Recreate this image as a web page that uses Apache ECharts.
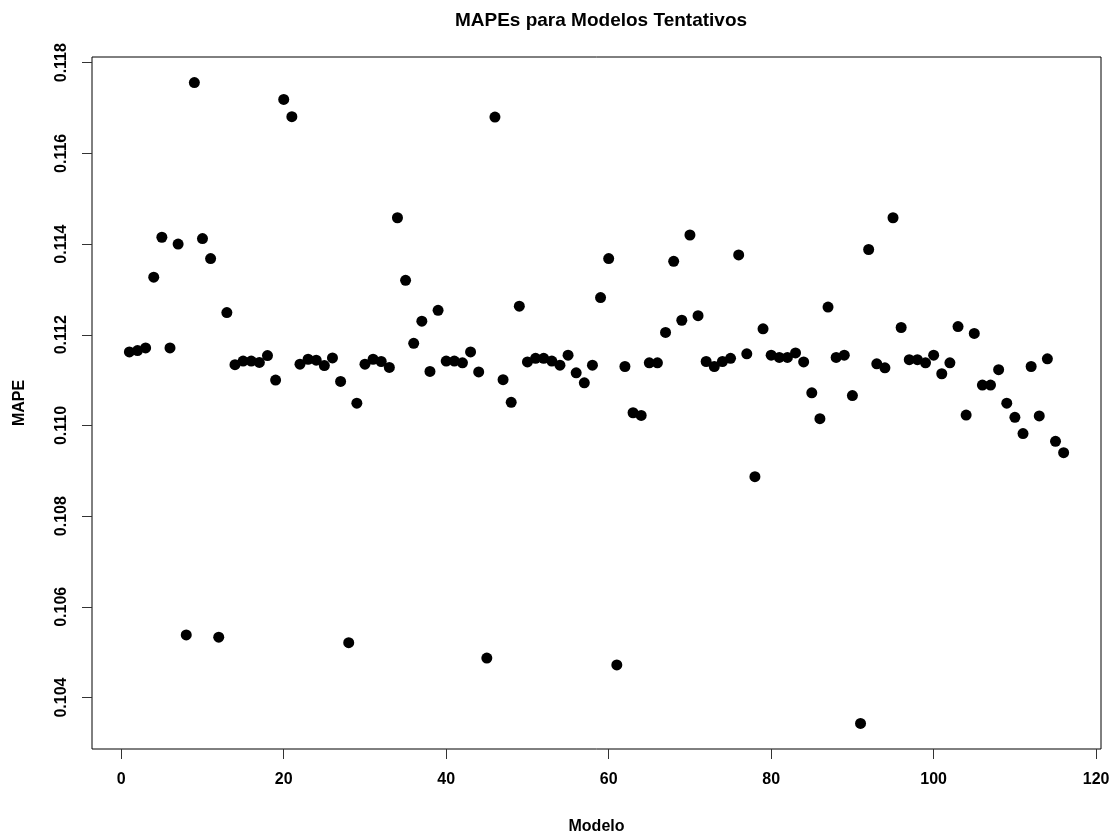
<!DOCTYPE html>
<html>
<head>
<meta charset="utf-8">
<script src="https://cdn.jsdelivr.net/npm/echarts@6/dist/echarts.min.js"></script>
<style>
  html, body { margin: 0; padding: 0; background: #ffffff; }
  #chart { width: 1116px; height: 834px; }
</style>
</head>
<body>
<div id="chart"></div>
<script>
// MAPE de cada modelo tentativo (modelo 1..116)
const mape = [
  0.11162, 0.11165, 0.11171, 0.11327, 0.11415, 0.11171, 0.11400, 0.10538, 0.11756, 0.11412,
  0.11368, 0.10533, 0.11249, 0.11134, 0.11142, 0.11142, 0.11139, 0.11154, 0.11100, 0.11719,
  0.11681, 0.11135, 0.11146, 0.11144, 0.11132, 0.11149, 0.11097, 0.10521, 0.11049, 0.11135,
  0.11146, 0.11141, 0.11128, 0.11458, 0.11320, 0.11181, 0.11230, 0.11119, 0.11254, 0.11142,
  0.11142, 0.11138, 0.11162, 0.11118, 0.10487, 0.11680, 0.11101, 0.11051, 0.11263, 0.11140,
  0.11148, 0.11148, 0.11142, 0.11133, 0.11155, 0.11116, 0.11094, 0.11133, 0.11282, 0.11368,
  0.10472, 0.11130, 0.11028, 0.11022, 0.11138, 0.11138, 0.11205, 0.11362, 0.11232, 0.11420,
  0.11242, 0.11141, 0.11130, 0.11141, 0.11148, 0.11376, 0.11158, 0.10887, 0.11213, 0.11155,
  0.11150, 0.11150, 0.11160, 0.11140, 0.11072, 0.11015, 0.11261, 0.11150, 0.11155, 0.11066,
  0.10343, 0.11388, 0.11136, 0.11127, 0.11458, 0.11216, 0.11145, 0.11145, 0.11138, 0.11155,
  0.11114, 0.11138, 0.11218, 0.11023, 0.11203, 0.11089, 0.11089, 0.11123, 0.11049, 0.11018,
  0.10982, 0.11130, 0.11021, 0.11147, 0.10965, 0.10940
];
const xTicks = [0, 20, 40, 60, 80, 100, 120];
const yTicks = [0.104, 0.106, 0.108, 0.110, 0.112, 0.114, 0.116, 0.118];

const font = '"Liberation Sans", Arial, sans-serif';
const chart = echarts.init(document.getElementById('chart'));

chart.setOption({
  backgroundColor: '#ffffff',
  animation: false,
  title: {
    text: 'MAPEs para Modelos Tentativos',
    left: 596,
    textAlign: 'center',
    top: 6,
    textStyle: { fontFamily: font, fontSize: 19, fontWeight: 'bold', color: '#000' }
  },
  grid: {
    left: 92, right: 15, top: 57, bottom: 85,
    outerBoundsMode: 'none',
    containLabel: false,
    show: true, borderColor: '#000', borderWidth: 1
  },
  xAxis: {
    type: 'value',
    min: -3.6, max: 120.6,
    name: 'Modelo',
    nameLocation: 'middle',
    nameGap: 70,
    nameTextStyle: { fontFamily: font, fontSize: 16, fontWeight: 'bold', color: '#000' },
    axisLine: { show: false, onZero: false },
    splitLine: { show: false },
    axisTick: { show: true, inside: false, length: 10, customValues: xTicks, lineStyle: { color: '#333' } },
    axisLabel: {
      customValues: xTicks, margin: 23,
      fontFamily: font, fontSize: 16, fontWeight: 'bold', color: '#000'
    }
  },
  yAxis: {
    type: 'value',
    min: 0.102865, max: 0.118125,
    name: 'MAPE',
    nameLocation: 'middle',
    nameRotate: 90,
    nameGap: 64,
    nameTextStyle: { fontFamily: font, fontSize: 16, fontWeight: 'bold', color: '#000' },
    axisLine: { show: false, onZero: false },
    splitLine: { show: false },
    axisTick: { show: true, inside: false, length: 10, customValues: yTicks, lineStyle: { color: '#333' } },
    axisLabel: {
      customValues: yTicks, rotate: 90, margin: 22,
      formatter: v => v.toFixed(3),
      fontFamily: font, fontSize: 16, fontWeight: 'bold', color: '#000'
    }
  },
  series: [{
    type: 'scatter',
    symbol: 'circle',
    symbolSize: 11,
    itemStyle: { color: '#000', opacity: 1 },
    data: mape.map((v, i) => [i + 1, v])
  }]
});
</script>
</body>
</html>
